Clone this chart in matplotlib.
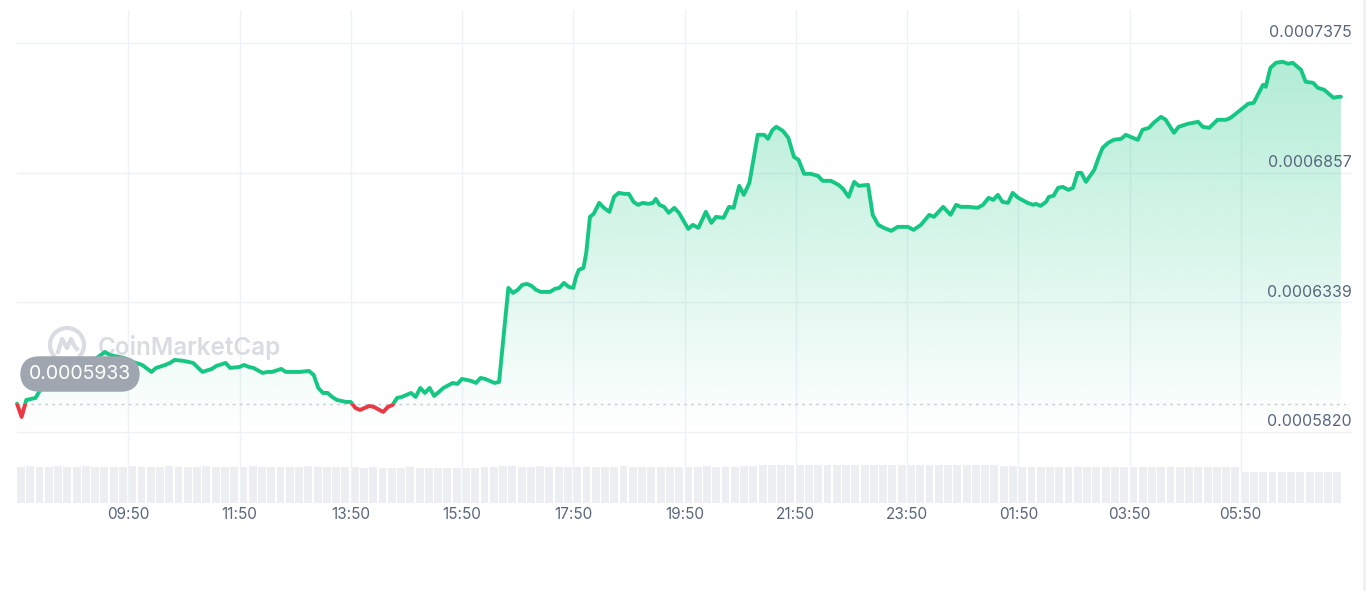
import numpy as np
import matplotlib.pyplot as plt
from matplotlib.patches import Rectangle, Ellipse
from matplotlib.lines import Line2D
from matplotlib.colors import to_rgb

plt.rcParams['font.family'] = ['Inter', 'DejaVu Sans']

# minutes after 07:50 and price (in units of 1e-7)
minutes = [
    0, 5, 10, 20, 25, 50, 70, 80, 95, 100, 115, 125, 135, 145, 150, 160, 165, 170,
    180, 190, 200, 210, 215, 225, 230, 240, 245, 250, 255, 265, 270, 275, 285, 290,
    305, 315, 320, 325, 330, 335, 340, 345, 355, 360, 365, 370, 375, 380, 385, 395,
    400, 405, 410, 415, 420, 425, 430, 435, 440, 445, 450, 455, 460, 470, 475, 480,
    490, 495, 500, 505, 515, 520, 530, 535, 540, 545, 550, 555, 560, 565, 575, 580,
    585, 590, 595, 600, 603, 606, 611, 614, 618, 622, 628, 633, 639, 644, 649, 655,
    660, 665, 670, 675, 681, 686, 689, 693, 698, 703, 709, 714, 724, 729, 735, 743,
    749, 754, 762, 768, 773, 779, 784, 790, 799, 806, 810, 815, 819, 826, 832, 838,
    843, 849, 856, 864, 869, 878, 886, 891, 897, 903, 908, 918, 923, 929, 935, 943,
    950, 961, 967, 975, 984, 989, 999, 1007, 1013, 1018, 1027, 1036, 1042, 1048,
    1053, 1058, 1063, 1069, 1074, 1080, 1090, 1096, 1099, 1104, 1110, 1113, 1118,
    1123, 1128, 1134, 1139, 1144, 1148, 1153, 1162, 1167, 1171, 1177, 1183, 1191,
    1196, 1201, 1209, 1214, 1221, 1226, 1234, 1239, 1248, 1253, 1263, 1274, 1279,
    1286, 1295, 1304, 1309, 1320, 1328, 1334, 1344, 1347, 1352, 1358, 1365, 1371,
    1376, 1385, 1390, 1398, 1403, 1410, 1420, 1425, 1428,
]
price_e7 = [
    5933, 5880, 5948, 5956, 5988, 6048, 6076, 6100, 6140, 6128, 6116, 6100, 6088, 6060,
    6076, 6088, 6096, 6108, 6104, 6096, 6060, 6072, 6084, 6096, 6076, 6080, 6088, 6080,
    6076, 6056, 6060, 6060, 6072, 6060, 6060, 6064, 6048, 5996, 5976, 5976, 5960, 5948,
    5940, 5940, 5916, 5908, 5916, 5924, 5920, 5900, 5920, 5928, 5956, 5960, 5968, 5976,
    5960, 5996, 5976, 5996, 5964, 5980, 5996, 6016, 6012, 6032, 6024, 6016, 6036, 6032,
    6016, 6020, 6396, 6376, 6388, 6408, 6412, 6404, 6388, 6380, 6380, 6392, 6396, 6416,
    6400, 6396, 6440, 6468, 6476, 6536, 6680, 6692, 6736, 6716, 6700, 6760, 6776, 6772,
    6772, 6740, 6728, 6736, 6732, 6736, 6752, 6728, 6720, 6696, 6716, 6696, 6632, 6648,
    6636, 6700, 6656, 6680, 6676, 6720, 6716, 6804, 6768, 6816, 7008, 7008, 6992, 7028,
    7040, 7024, 6996, 6920, 6908, 6852, 6852, 6844, 6824, 6824, 6808, 6792, 6760, 6820,
    6804, 6808, 6688, 6648, 6636, 6624, 6640, 6640, 6628, 6648, 6688, 6680, 6720, 6688,
    6728, 6720, 6720, 6716, 6728, 6756, 6748, 6768, 6740, 6736, 6776, 6756, 6736, 6728,
    6732, 6724, 6740, 6760, 6764, 6796, 6800, 6788, 6796, 6856, 6856, 6820, 6868, 6920,
    6956, 6976, 6988, 6992, 7008, 7000, 6988, 7028, 7036, 7056, 7080, 7068, 7016, 7040,
    7052, 7060, 7040, 7036, 7068, 7068, 7076, 7108, 7132, 7136, 7208, 7200, 7276, 7296,
    7300, 7292, 7296, 7268, 7220, 7216, 7196, 7188, 7156, 7160, 7160,
]
price = np.array(price_e7) * 1e-7
ref_price = 0.0005933

# volume bars, one every 10 minutes (arbitrary units)
volume = [
    36, 37, 36, 36, 37, 36, 36, 37, 36, 36,
    36, 36, 37, 36, 36, 36, 37, 36, 36, 36,
    37, 36, 36, 36, 36, 37, 36, 36, 36, 36,
    36, 37, 36, 36, 36, 36, 36, 35, 36, 35,
    35, 35, 36, 35, 35, 35, 35, 35, 35, 35,
    36, 36, 37, 37, 36, 36, 37, 36, 36, 36,
    36, 36, 36, 36, 36, 37, 36, 36, 36, 36,
    36, 36, 36, 36, 37, 36, 36, 36, 37, 37,
    38, 38, 38, 38, 38, 38, 38, 38, 38, 38,
    38, 38, 38, 38, 38, 38, 38, 38, 38, 38,
    38, 38, 38, 38, 38, 38, 37, 37, 36, 36,
    36, 36, 36, 36, 36, 36, 36, 36, 36, 36,
    36, 36, 36, 36, 36, 36, 36, 36, 36, 36,
    36, 36, 31, 31, 31, 31, 31, 31, 31, 31,
    31, 31, 31,
]
vol_minutes = np.arange(len(volume)) * 10

tick_minutes = [120, 240, 360, 480, 600, 720, 840, 960, 1080, 1200, 1320]
tick_labels = ["09:50", "11:50", "13:50", "15:50", "17:50", "19:50",
               "21:50", "23:50", "01:50", "03:50", "05:50"]
price_ticks = [0.0005820, 0.0006339, 0.0006857, 0.0007375]

GREEN = "#16c784"
RED = "#ea3943"
GREY = "#58667e"
GRID = "#eff2f5"

fig = plt.figure(figsize=(13.7, 5.91), dpi=100)
ax = fig.add_axes([17 / 1370, 88 / 591, 1335 / 1370, 493 / 591])
vax = ax.twinx()
ax.set_zorder(1)
vax.set_zorder(0)
ax.patch.set_visible(False)

# volume
vax.bar(vol_minutes, volume, width=8.5, align="edge", color="#eceef2", lw=0)
vax.set_ylim(0, max(volume) * 13)
vax.axis("off")

# gradient area under the line
poly = ax.fill_between(minutes, price, price_ticks[0], color="none", lw=0)
n = 256
rgba = np.zeros((n, 1, 4))
rgba[:, 0, :3] = to_rgb(GREEN)
rgba[:, 0, 3] = np.linspace(0.0, 0.33, n)
img = ax.imshow(rgba, extent=[0, 1440, price_ticks[0], 0.000730], origin="lower",
                aspect="auto", interpolation="bilinear", zorder=2)
img.set_clip_path(poly.get_paths()[0], transform=ax.transData)

# reference price line
ax.hlines(ref_price, 0, minutes[-1] + 4, colors="#c8cdd5", linestyles=(0, (2, 3)),
          lw=1, zorder=3)

# price line, green above / red below opening price
up_clip = Rectangle((-100, ref_price), 2000, 1, transform=ax.transData)
dn_clip = Rectangle((-100, ref_price - 1), 2000, 1, transform=ax.transData)
lg, = ax.plot(minutes, price, color=GREEN, lw=2.8, solid_joinstyle="round",
              solid_capstyle="round", zorder=4)
lg.set_clip_path(up_clip)
lr, = ax.plot(minutes, price, color=RED, lw=2.8, solid_joinstyle="round",
              solid_capstyle="round", zorder=4)
lr.set_clip_path(dn_clip)

ax.set_xlim(0, 1440)
ax.set_ylim(0.0005536, 0.0007507)

ax.set_xticks(tick_minutes)
ax.set_xticklabels(tick_labels)
ax.set_yticks(price_ticks)
ax.grid(True, color=GRID, lw=1)
ax.set_axisbelow(True)
ax.tick_params(axis="x", length=0, pad=3, labelsize=11, labelcolor=GREY)
ax.tick_params(axis="y", length=0, labelleft=False, labelright=False)
for s in ax.spines.values():
    s.set_visible(False)

for v in price_ticks:
    ax.annotate(f"{v:.7f}", xy=(1, v), xycoords=("axes fraction", "data"),
                xytext=(0, 4), textcoords="offset points", ha="right",
                va="baseline", fontsize=11.5, color=GREY)

# watermark
wm = "#d9dce1"
ax.add_patch(Ellipse((50 / 1335, 158 / 493), 34 / 1335, 34 / 493,
                     transform=ax.transAxes, fill=False, ec=wm, lw=3, zorder=1))
ax.add_line(Line2D(np.array([-9, -5, 0, 4, 8, 10]) / 1335 + 50 / 1335,
                   np.array([-7, 6, -3, 6, -2, -4]) / 493 + 158 / 493,
                   transform=ax.transAxes, color=wm, lw=3, zorder=1))
ax.text(81 / 1335, 156 / 493, "CoinMarketCap", transform=ax.transAxes,
        ha="left", va="center", fontsize=17.5, fontweight="semibold", color=wm,
        zorder=1)

# current price badge
ax.text(63 / 1335, 129 / 493, "0.0005933", transform=ax.transAxes, ha="center",
        va="center", fontsize=14, color="white", zorder=6,
        bbox=dict(boxstyle="round,pad=0.45,rounding_size=1.0", fc="#a0a6b0",
                  ec="none"))

fig.add_artist(Line2D([1364 / 1370, 1364 / 1370], [0, 1], transform=fig.transFigure,
                      color="#eef0f3", lw=2))

fig.savefig("out.png", dpi=100)
